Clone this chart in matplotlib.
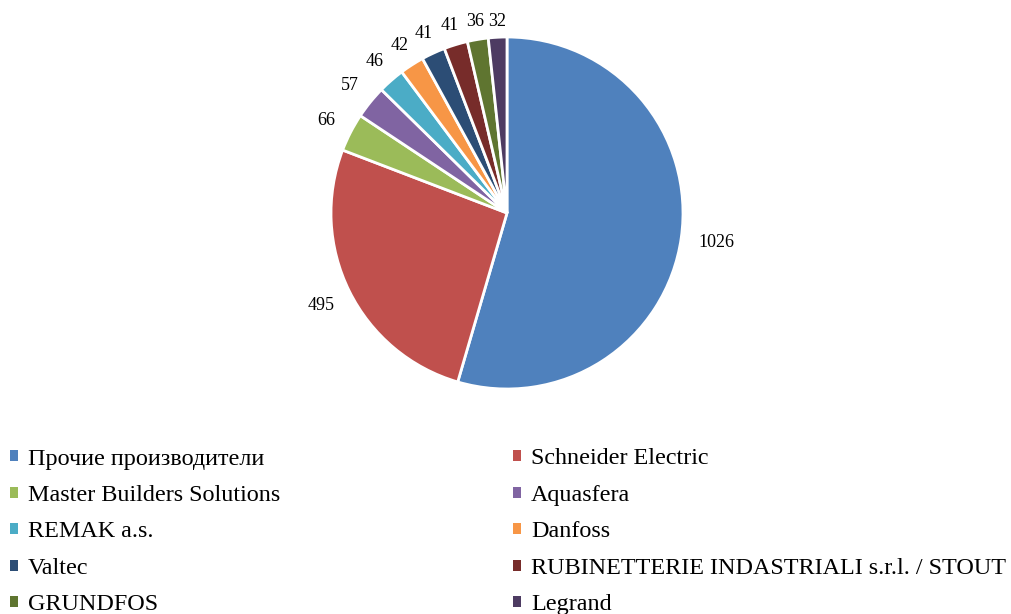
import numpy as np
import matplotlib
matplotlib.use("Agg")
import matplotlib.pyplot as plt
from matplotlib.patches import Patch

plt.rcParams["font.family"] = ["Liberation Serif", "DejaVu Serif"]

proizvoditeli = [
    "Прочие производители",
    "Schneider Electric",
    "Master Builders Solutions",
    "Aquasfera",
    "REMAK a.s.",
    "Danfoss",
    "Valtec",
    "RUBINETTERIE INDASTRIALI s.r.l. / STOUT",
    "GRUNDFOS",
    "Legrand",
]
znacheniya = [1026, 495, 66, 57, 46, 42, 41, 41, 36, 32]
cveta = ["#4F81BD", "#C0504D", "#9BBB59", "#8064A2", "#4BACC6",
         "#F79646", "#2C4D75", "#772C2A", "#5F7530", "#4D3B62"]

W, H = 1011, 614
CX, CY, R = 507, 213, 176  # pixels, from top-left

fig = plt.figure(figsize=(W / 100, H / 100), dpi=100)
ax = fig.add_axes([(CX - R) / W, (H - CY - R) / H, 2 * R / W, 2 * R / H])

wedges, _ = ax.pie(znacheniya, colors=cveta, startangle=90, counterclock=False,
                   radius=1.0, wedgeprops=dict(edgecolor="white", linewidth=2))
ax.set_xlim(-1, 1)
ax.set_ylim(-1, 1)
ax.set_aspect("equal")
ax.axis("off")

# подписи значений снаружи секторов
for w, v in zip(wedges, znacheniya):
    ang = np.deg2rad((w.theta1 + w.theta2) / 2)
    c, s = np.cos(ang), np.sin(ang)
    hw = len(str(v)) * 8.8 / 2 + 9
    hh = 7
    d = (R + 8 + hw * abs(c) + hh * abs(s)) / R
    ax.text(d * c, d * s, str(v), ha="center", va="center", fontsize=13,
            clip_on=False)

handles = [Patch(facecolor=c, edgecolor="none") for c in cveta]
opts = dict(frameon=False, fontsize=17.4, handlelength=0.33, handleheight=0.33,
            handletextpad=0.42, labelspacing=0.64, borderaxespad=0, borderpad=0)
leg1 = fig.legend(handles[0::2], proizvoditeli[0::2], loc="upper left",
                  bbox_to_anchor=(10 / W, 1 - 448.5 / H), **opts)
leg2 = fig.legend(handles[1::2], proizvoditeli[1::2], loc="upper left",
                  bbox_to_anchor=(513 / W, 1 - 448.5 / H), **opts)

fig.savefig("out.png", dpi=100)
